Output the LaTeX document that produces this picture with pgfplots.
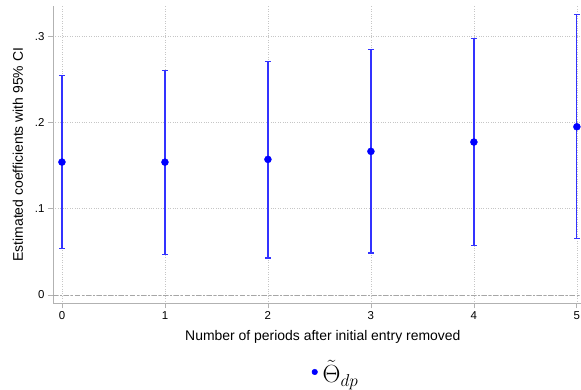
\documentclass[border=0pt]{standalone}
\usepackage{pgfplots}
\usepackage{pgfplotstable}
\pgfplotsset{compat=1.18}
\usepackage{fontspec}
\setmainfont{Liberation Sans}
\pgfplotstableread{
x y ep em
0 0.1541 0.1008 0.1004
1 0.1540 0.1067 0.1069
2 0.1572 0.1139 0.1143
3 0.1665 0.1182 0.1178
4 0.1773 0.1201 0.1202
5 0.1950 0.1298 0.1293
}\coefs
\begin{document}
\begin{tikzpicture}
\begin{axis}[
  at={(53bp,86.7bp)}, anchor=south west,
  scale only axis, width=528bp, height=297.3bp,
  xmin=-0.087, xmax=5.04, ymin=-0.0096, ymax=0.335,
  axis x line*=bottom, axis y line*=left,
  axis line style={gray!60, line width=0.8bp, -},
  xtick={0,1,2,3,4,5}, ytick={0,0.1,0.2,0.3}, yticklabels={0,.1,.2,.3},
  tick align=outside, major tick length=5bp,
  tick style={gray!60, line width=0.8bp},
  grid=major, grid style={dotted, gray!45, line width=0.6bp},
  ticklabel style={font=\fontsize{11.5}{13}\selectfont},
  /pgf/number format/assume math mode=true,
  xlabel={Number of periods after initial entry removed},
  ylabel={Estimated coefficients with 95\% CI},
  label style={font=\fontsize{14}{16}\selectfont},
  xlabel style={at={(axis description cs:0.511,-0.113)}, anchor=center},
  ylabel style={at={(axis description cs:-0.0663,0.5)}, anchor=center},
  clip=false,
  legend style={at={(axis description cs:0.536,-0.231)}, anchor=center, draw=none, fill=none, font=\fontsize{24}{26}\selectfont},
  legend image code/.code={\fill[blue] (0bp,0bp) circle (2.8bp); \path[draw=none, fill=none] (-3bp,0bp) rectangle (6bp,0.1bp);},
]
\addplot[gray!70, line width=0.8bp, dash pattern=on 5bp off 2bp on 2bp off 2bp, forget plot] coordinates {(-0.087,0) (5.04,0)};
\addplot[only marks, mark=*, mark size=3.5bp, blue,
  error bars/.cd, y dir=both, y explicit,
  error bar style={blue!80!white, line width=1.2bp},
  error mark options={blue!80!white, mark size=3bp, line width=1.2bp, rotate=90}]
  table[x=x, y=y, y error plus=ep, y error minus=em] {\coefs};
\addlegendentry{$\tilde{\Theta}_{dp}$}
\end{axis}
\pgfresetboundingbox
\path (0,0) rectangle (581bp,390bp);
\end{tikzpicture}
\end{document}
